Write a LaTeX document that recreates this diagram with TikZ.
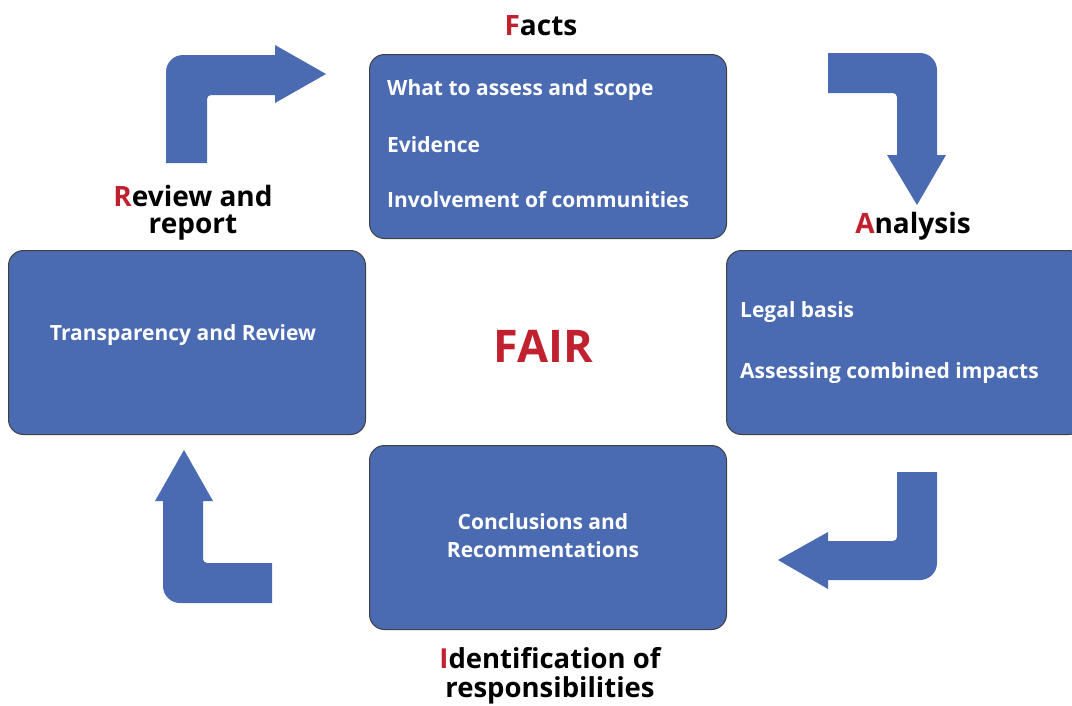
\documentclass[tikz,border=0pt]{standalone}
\usepackage{fontspec}
\setmainfont{Open Sans}
\definecolor{boxblue}{HTML}{4A6BB2}
\definecolor{fairred}{HTML}{C1202F}
\tikzset{
  stagebox/.style={draw=black!75, line width=1pt, fill=boxblue, rounded corners=15,
    minimum width=357, minimum height=184, inner sep=0, anchor=north west},
  itemtext/.style={text=white, font=\fontsize{21}{21}\bfseries\selectfont, inner sep=0},
  heading/.style={text=black, font=\fontsize{28}{27}\bfseries\selectfont, inner sep=0, align=center},
  bentarrow/.style={fill=boxblue, draw=none},
}
\newcommand{\initial}[1]{\textcolor{fairred}{#1}}
\begin{document}
\begin{tikzpicture}[x=1pt, y=-1pt]
\useasboundingbox (0,0) rectangle (1072,705);
\clip (0,0) rectangle (1072,705);

% stage boxes
\node[stagebox] (facts) at (369,54) {};
\node[stagebox] (review) at (8,250) {};
\node[stagebox] (analysis) at (726,250) {};
\node[stagebox] (ident) at (369,445) {};

% box contents
\node[itemtext, anchor=west] (f1) at (387,90) {What to assess and scope};
\node[itemtext, anchor=west] (f2) at (387,145) {Evidence};
\node[itemtext, anchor=west] (f3) at (387,200) {Involvement of communities};
\node[itemtext, anchor=west] (a1) at (740,312) {Legal basis};
\node[itemtext, anchor=west] (a2) at (740,373) {Assessing combined impacts};
\node[itemtext] (r1) at (183,335) {Transparency and Review};
\node[itemtext, align=center, font=\fontsize{21}{28}\bfseries\selectfont] (i1) at (543,536) {Conclusions and\\Recommentations};

% stage headings
\node[heading] (hf) at (541,26) {\initial{F}acts};
\node[heading] (ha) at (913,226) {\initial{A}nalysis};
\node[heading] (hr) at (193,213) {\initial{R}eview and\\report};
\node[heading, font=\fontsize{27.5}{29}\bfseries\selectfont] (hi) at (550,676) {\initial{I}dentification of\\responsibilities};
\node[text=fairred, font=\fontsize{45}{45}\bfseries\selectfont, inner sep=0] (fair) at (543,346) {FAIR};

% bent arrows between the stages
\fill[bentarrow] (166,163) -- (166,72) arc[start angle=180, end angle=270, radius=17]
  -- (275,55) -- (275,45) -- (326,74) -- (275,103) -- (275,95) -- (211,95)
  arc[start angle=270, end angle=180, radius=4] -- (207,163) -- cycle;
\fill[bentarrow] (828,53) -- (920,53) arc[start angle=-90, end angle=0, radius=17]
  -- (937,155) -- (946,155) -- (917,205) -- (887,155) -- (897,155) -- (897,97)
  arc[start angle=0, end angle=-90, radius=4] -- (828,93) -- cycle;
\fill[bentarrow] (937,472) -- (937,563) arc[start angle=0, end angle=90, radius=17]
  -- (828,580) -- (828,589) -- (778,560) -- (828,532) -- (828,541) -- (893,541)
  arc[start angle=90, end angle=0, radius=4] -- (897,472) -- cycle;
\fill[bentarrow] (272,603) -- (180,603) arc[start angle=90, end angle=180, radius=17]
  -- (163,501) -- (155,501) -- (184,450) -- (213,501) -- (203,501) -- (203,559)
  arc[start angle=180, end angle=90, radius=4] -- (272,563) -- cycle;
\end{tikzpicture}
\end{document}
